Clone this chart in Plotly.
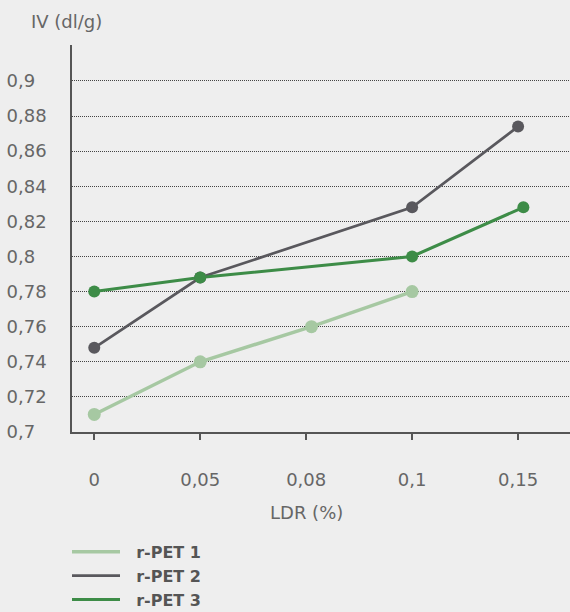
import plotly.graph_objects as go

# ---- data ----
categories = ["0", "0,05", "0,08", "0,1", "0,15"]
y_ticks = [0.7, 0.72, 0.74, 0.76, 0.78, 0.8, 0.82, 0.84, 0.86, 0.88, 0.9]
y_ticklabels = ["0,7", "0,72", "0,74", "0,76", "0,78", "0,8", "0,82", "0,84", "0,86", "0,88", "0,9"]

rpet1_x = [0, 1, 2.05, 3]
rpet1_y = [0.710, 0.740, 0.760, 0.780]
rpet2_x = [0, 1, 3, 4]
rpet2_y = [0.748, 0.788, 0.828, 0.874]
rpet3_x = [0, 1, 3, 4.05]
rpet3_y = [0.780, 0.788, 0.800, 0.828]

series = [
    ("r-PET 1", rpet1_x, rpet1_y, "#a6c8a2", 3.5, 13),
    ("r-PET 2", rpet2_x, rpet2_y, "#59585d", 2.7, 12),
    ("r-PET 3", rpet3_x, rpet3_y, "#3d8c47", 3, 12),
]

FONT = "DejaVu Sans"
TXT = "#666666"
AX = "#555555"
BG = "#eeeeee"

fig = go.Figure()
for name, xs, ys, col, lw, ms in series:
    fig.add_trace(go.Scatter(x=xs, y=ys, mode="lines", name="\u2007" + name,
                             line=dict(color=col, width=lw)))
for name, xs, ys, col, lw, ms in series:
    fig.add_trace(go.Scatter(x=xs, y=ys, mode="markers", name=name, showlegend=False,
                             marker=dict(color=col, size=ms)))

fig.update_layout(
    width=570, height=612,
    paper_bgcolor=BG, plot_bgcolor=BG,
    margin=dict(l=72, r=0, t=45, b=180, autoexpand=False),
    font=dict(family=FONT, color=TXT, size=18),
    title=dict(text="IV (dl/g)", x=31 / 570, xref="container", xanchor="left",
               y=1 - 22 / 612, yref="container", yanchor="middle",
               font=dict(family=FONT, size=18, color=TXT)),
    showlegend=True,
    legend=dict(x=-5 / 498, xanchor="left", y=-0.266, yanchor="top",
                orientation="v", bgcolor="rgba(0,0,0,0)",
                font=dict(family=FONT, size=16, color=AX, weight=600),
                itemwidth=48),
    annotations=[dict(text="LDR (%)", x=2, xref="x", y=0, yref="paper",
                      yshift=-80, yanchor="middle", showarrow=False,
                      font=dict(family=FONT, size=18, color=TXT))],
)

fig.update_xaxes(
    type="linear", range=[-0.21, 4.49],
    tickmode="array", tickvals=list(range(len(categories))), ticktext=categories,
    ticks="outside", ticklen=6, tickwidth=1.5, tickcolor=AX,
    ticklabelstandoff=25,
    showline=True, linecolor=AX, linewidth=1.5,
    showgrid=False, zeroline=False,
    tickfont=dict(family=FONT, size=18, color=TXT),
)
fig.update_yaxes(
    range=[0.7, 0.9205],
    tickmode="array", tickvals=y_ticks,
    ticktext=[t + "\u2007" * (4 - len(t)) for t in y_ticklabels],
    ticks="", ticklabelstandoff=20,
    showline=True, linecolor=AX, linewidth=1.5,
    showgrid=True, gridcolor="#444444", gridwidth=1, griddash="1px,1px",
    zeroline=False,
    tickfont=dict(family=FONT, size=18, color=TXT),
)

fig.write_html("out.html", config={"displayModeBar": False},
               post_script="document.body.style.margin='0';document.body.style.background='#eeeeee';")
